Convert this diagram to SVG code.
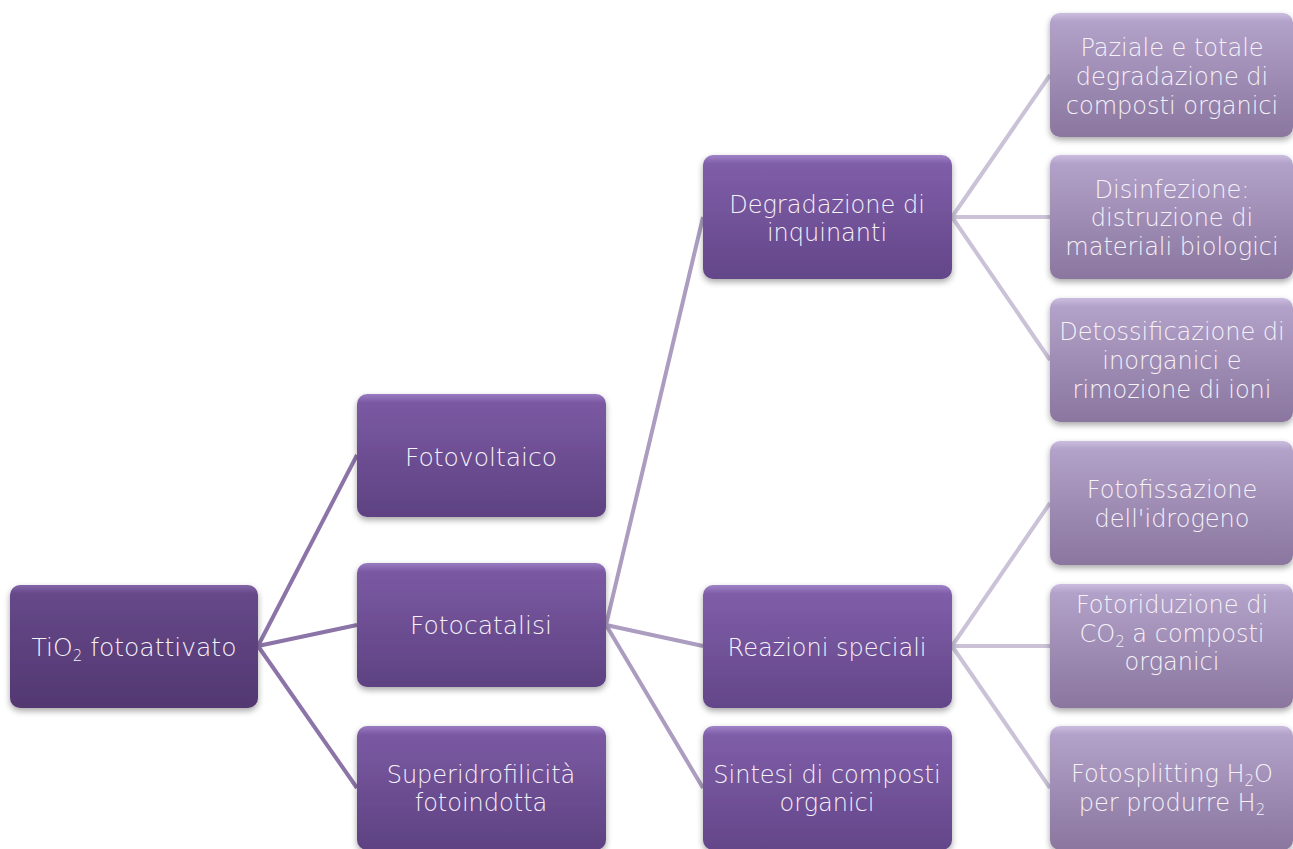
<svg xmlns="http://www.w3.org/2000/svg" width="1293" height="849" viewBox="0 0 1293 849">
<defs>
<linearGradient id="g0" x1="0" y1="0" x2="0" y2="1">
<stop offset="0" stop-color="#8566aa"/><stop offset="0.07" stop-color="#664889"/><stop offset="1" stop-color="#523871"/>
</linearGradient>
<linearGradient id="g1" x1="0" y1="0" x2="0" y2="1">
<stop offset="0" stop-color="#9a7bc2"/><stop offset="0.07" stop-color="#7a59a2"/><stop offset="1" stop-color="#5e4282"/>
</linearGradient>
<linearGradient id="g2" x1="0" y1="0" x2="0" y2="1">
<stop offset="0" stop-color="#a083c8"/><stop offset="0.07" stop-color="#7f5ea8"/><stop offset="1" stop-color="#634689"/>
</linearGradient>
<linearGradient id="g3" x1="0" y1="0" x2="0" y2="1">
<stop offset="0" stop-color="#cbbde0"/><stop offset="0.07" stop-color="#b2a1c8"/><stop offset="1" stop-color="#8a769f"/>
</linearGradient>
<filter id="sh" x="-10%" y="-10%" width="120%" height="130%">
<feDropShadow dx="0" dy="3" stdDeviation="3" flood-color="#000" flood-opacity="0.35"/>
</filter>
<style>
.n0{fill:url(#g0);filter:url(#sh)}
.n1{fill:url(#g1);filter:url(#sh)}
.n2{fill:url(#g2);filter:url(#sh)}
.n3{fill:url(#g3);filter:url(#sh)}
text{font-family:"DejaVu Sans","Liberation Sans",sans-serif;font-weight:200;font-size:24px;fill:#f6f2fa;text-anchor:middle}
.big{font-size:25px}
.sub{font-size:15px}
.c1{stroke:#8c74a8;stroke-width:4;fill:none}
.c2{stroke:#ab9cc0;stroke-width:4;fill:none}
.c3{stroke:#cbc2d8;stroke-width:4;fill:none}
</style>
</defs>
<rect width="1293" height="849" fill="#ffffff"/>
<g id="connectors">
<path class="c1" d="M258 646 L357 455 M258 646 L357 625 M258 646 L357 788"/>
<path class="c2" d="M606 625 L703 217 M606 625 L703 646 M606 625 L703 788"/>
<path class="c3" d="M952 217 L1050 75 M952 217 L1050 217 M952 217 L1050 360"/>
<path class="c3" d="M952 646 L1050 503 M952 646 L1050 646 M952 646 L1050 788"/>
</g>
<g id="root">
<rect class="n0" x="10" y="585" width="248" height="123" rx="10"/>
<text class="big" x="134" y="656">TiO<tspan class="sub" dy="5">2</tspan><tspan dy="-5"> fotoattivato</tspan></text>
</g>
<g id="fotovoltaico">
<rect class="n1" x="357" y="394" width="249" height="123" rx="10"/>
<text class="big" x="481" y="466">Fotovoltaico</text>
</g>
<g id="fotocatalisi">
<rect class="n1" x="357" y="563" width="249" height="124" rx="10"/>
<text class="big" x="481" y="634">Fotocatalisi</text>
</g>
<g id="superidrofilicita">
<rect class="n1" x="357" y="726" width="249" height="124" rx="10"/>
<text x="481" y="783">Superidrofilicità</text>
<text x="481" y="811">fotoindotta</text>
</g>
<g id="degradazione">
<rect class="n2" x="703" y="155" width="249" height="124" rx="10"/>
<text x="827" y="213">Degradazione di</text>
<text x="827" y="241">inquinanti</text>
</g>
<g id="reazioni">
<rect class="n2" x="703" y="585" width="249" height="123" rx="10"/>
<text x="827" y="656">Reazioni speciali</text>
</g>
<g id="sintesi">
<rect class="n2" x="703" y="726" width="249" height="124" rx="10"/>
<text x="827" y="783">Sintesi di composti</text>
<text x="827" y="811">organici</text>
</g>
<g id="paziale">
<rect class="n3" x="1050" y="13" width="243" height="124" rx="10"/>
<text x="1172" y="56">Paziale e totale</text>
<text x="1172" y="85">degradazione di</text>
<text x="1172" y="114">composti organici</text>
</g>
<g id="disinfezione">
<rect class="n3" x="1050" y="155" width="243" height="124" rx="10"/>
<text x="1172" y="198">Disinfezione:</text>
<text x="1172" y="226">distruzione di</text>
<text x="1172" y="255">materiali biologici</text>
</g>
<g id="detossificazione">
<rect class="n3" x="1050" y="298" width="243" height="124" rx="10"/>
<text x="1172" y="340">Detossificazione di</text>
<text x="1172" y="369">inorganici e</text>
<text x="1172" y="398">rimozione di ioni</text>
</g>
<g id="fotofissazione">
<rect class="n3" x="1050" y="441" width="243" height="124" rx="10"/>
<text x="1172" y="498">Fotofissazione</text>
<text x="1172" y="527">dell'idrogeno</text>
</g>
<g id="fotoriduzione">
<rect class="n3" x="1050" y="584" width="243" height="124" rx="10"/>
<text x="1172" y="613">Fotoriduzione di</text>
<text x="1172" y="642">CO<tspan class="sub" dy="5">2</tspan><tspan dy="-5"> a composti</tspan></text>
<text x="1172" y="670">organici</text>
</g>
<g id="fotosplitting">
<rect class="n3" x="1050" y="726" width="243" height="124" rx="10"/>
<text x="1172" y="782">Fotosplitting H<tspan class="sub" dy="4">2</tspan><tspan dy="-4">O</tspan></text>
<text x="1172" y="811">per produrre H<tspan class="sub" dy="4">2</tspan></text>
</g>
</svg>
